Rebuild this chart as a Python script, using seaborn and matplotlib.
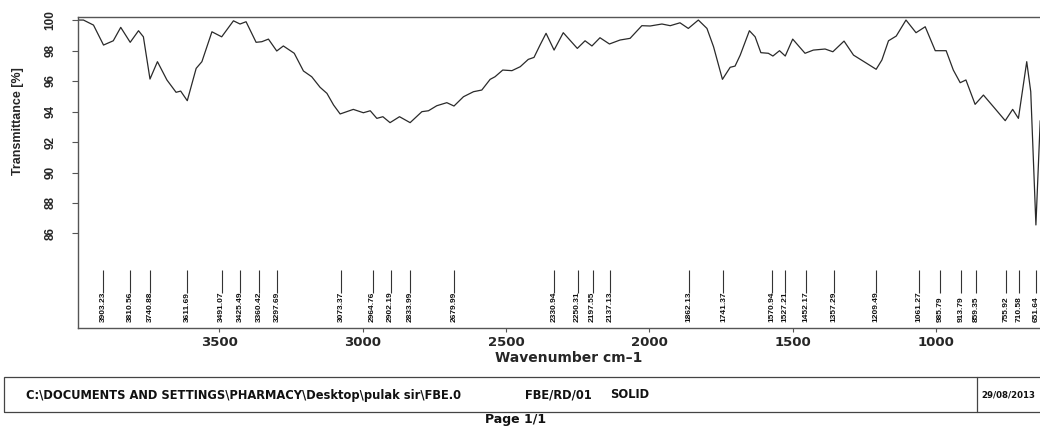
import matplotlib
matplotlib.use("Agg")
import matplotlib.pyplot as plt
import pandas as pd
import seaborn as sns
from matplotlib.patches import Rectangle
from matplotlib.lines import Line2D

# FT-IR spectrum, wavenumber (cm-1) against transmittance (%)
wavenumber = [
    3994, 3973, 3938, 3903, 3869, 3843, 3810, 3781, 3764, 3741,
    3715, 3682, 3650, 3634, 3611, 3580, 3560, 3525, 3491, 3450,
    3427, 3406, 3371, 3351, 3328, 3299, 3276, 3238, 3206, 3177,
    3148, 3124, 3101, 3078, 3032, 2997, 2973, 2950, 2929, 2904,
    2871, 2834, 2793, 2770, 2741, 2706, 2681, 2648, 2613, 2584,
    2555, 2538, 2511, 2479, 2450, 2422, 2402, 2381, 2360, 2332,
    2300, 2251, 2224, 2200, 2172, 2139, 2102, 2067, 2026, 1997,
    1956, 1927, 1893, 1864, 1829, 1799, 1776, 1745, 1718, 1701,
    1683, 1651, 1631, 1611, 1585, 1569, 1546, 1526, 1500, 1477,
    1457, 1428, 1387, 1360, 1321, 1288, 1242, 1209, 1189, 1166,
    1139, 1105, 1070, 1038, 1003, 965, 940, 916, 896, 864,
    835, 800, 759, 733, 713, 684, 670, 652, 637,
]
transmittance = [
    100.0, 100.0, 99.67, 98.36, 98.64, 99.52, 98.54, 99.30, 98.90, 96.13,
    97.27, 96.07, 95.26, 95.34, 94.71, 96.83, 97.27, 99.23, 98.90, 99.95,
    99.74, 99.89, 98.54, 98.58, 98.75, 97.97, 98.30, 97.82, 96.66, 96.28,
    95.59, 95.19, 94.43, 93.84, 94.14, 93.92, 94.05, 93.55, 93.66, 93.27,
    93.66, 93.27, 93.99, 94.05, 94.38, 94.58, 94.36, 94.97, 95.30, 95.41,
    96.11, 96.28, 96.72, 96.68, 96.94, 97.42, 97.55, 98.36, 99.13, 98.03,
    99.17, 98.14, 98.64, 98.30, 98.84, 98.43, 98.69, 98.80, 99.63, 99.61,
    99.74, 99.63, 99.82, 99.45, 100.0, 99.45, 98.25, 96.11, 96.90, 96.98,
    97.70, 99.30, 98.90, 97.86, 97.82, 97.64, 97.99, 97.64, 98.75, 98.25,
    97.82, 98.03, 98.10, 97.92, 98.62, 97.70, 97.16, 96.77, 97.38, 98.64,
    98.95, 100.0, 99.17, 99.56, 97.99, 97.99, 96.72, 95.89, 96.07, 94.47,
    95.08, 94.31, 93.40, 94.14, 93.55, 97.27, 95.30, 86.56, 93.40,
]

# picked absorption bands
peaks = [
    3903.23, 3810.56, 3740.88, 3611.69, 3491.07, 3425.49, 3360.42, 3297.69,
    3073.37, 2964.76, 2902.19, 2833.99, 2679.99, 2330.94, 2250.31, 2197.55,
    2137.13, 1862.13, 1741.37, 1570.94, 1527.21, 1452.17, 1357.29, 1209.49,
    1061.27, 985.79, 913.79, 859.35, 755.92, 710.58, 651.64,
]

x_ticks = [3500, 3000, 2500, 2000, 1500, 1000]
y_ticks = [86, 88, 90, 92, 94, 96, 98, 100]

footer_path = r"C:\DOCUMENTS AND SETTINGS\PHARMACY\Desktop\pulak sir\FBE.0"
footer_sample = "FBE/RD/01"
footer_state = "SOLID"
footer_date = "29/08/2013"
page_label = "Page 1/1"

sns.set_theme(style="white")
plt.rcParams["font.family"] = ["DejaVu Sans"]

W, H = 1040, 438
fig = plt.figure(figsize=(W / 100, H / 100), dpi=100)
ax = fig.add_axes([78 / W, 1 - 328 / H, (1060 - 78) / W, (328 - 17) / H])

df = pd.DataFrame({"Wavenumber": wavenumber, "Transmittance": transmittance})
sns.lineplot(data=df, x="Wavenumber", y="Transmittance", ax=ax,
             color="#2a2a2a", lw=0.9, sort=False, estimator=None)

ax.set_xlim(3992, 568)
ax.set_ylim(79.8, 100.2)

# band markers and their labels in the lower part of the frame
ax.vlines(peaks, 82.1, 83.6, color="#333333", lw=0.8)
for p in peaks:
    ax.text(p, 80.2, f"{p:.2f}", rotation=90, ha="center", va="bottom",
            fontsize=6, family="Liberation Sans", weight="bold", color="#111111")

ax.set_xticks(x_ticks)
ax.set_xticklabels([str(t) for t in x_ticks], fontsize=9.5, weight="bold")
ax.set_yticks(y_ticks)
ax.set_yticklabels([str(t) for t in y_ticks], rotation=90, va="center",
                   fontsize=8.5, family="Liberation Sans", weight="bold")
ax.tick_params(axis="x", length=3, width=0.8, color="#555555", pad=2.5,
               direction="out", bottom=True)
ax.tick_params(axis="y", length=4.3, width=0.8, color="#555555", pad=11,
               direction="out", left=True)

ax.set_xlabel("Wavenumber cm\u20131", fontsize=10, weight="bold", labelpad=2)
ax.set_ylabel("Transmittance [%]", fontsize=9, family="Liberation Sans",
              weight="bold", va="center")
ax.yaxis.set_label_coords(-0.061, 0.666)

for side in ("left", "bottom", "top"):
    ax.spines[side].set_color("#555555")
    ax.spines[side].set_linewidth(1.0)
ax.spines["right"].set_visible(False)

# footer information box
box_bottom, box_top = 1 - 412 / H, 1 - 377 / H
fig.add_artist(Rectangle((4 / W, box_bottom), (1045 - 4) / W, box_top - box_bottom,
                         transform=fig.transFigure, fill=False, ec="#444444", lw=0.9))
fig.add_artist(Line2D([977 / W, 977 / W], [box_bottom, box_top],
                      transform=fig.transFigure, color="#444444", lw=0.9))
ty = 1 - 395 / H
fkw = dict(family="DejaVu Sans", weight="bold", va="center", color="#111111")
fig.text(26 / W, ty, footer_path, fontsize=8.3, **fkw)
fig.text(525 / W, ty, footer_sample, fontsize=8.3, **fkw)
fig.text(610 / W, ty, footer_state, fontsize=8.3, **fkw)
fig.text(981 / W, ty, footer_date, fontsize=6.2, **fkw)
fig.text(516 / W, 1 - 420 / H, page_label, ha="center", va="center",
         fontsize=9, family="DejaVu Sans", weight="bold", color="#111111")

fig.savefig("out.png", dpi=100)
